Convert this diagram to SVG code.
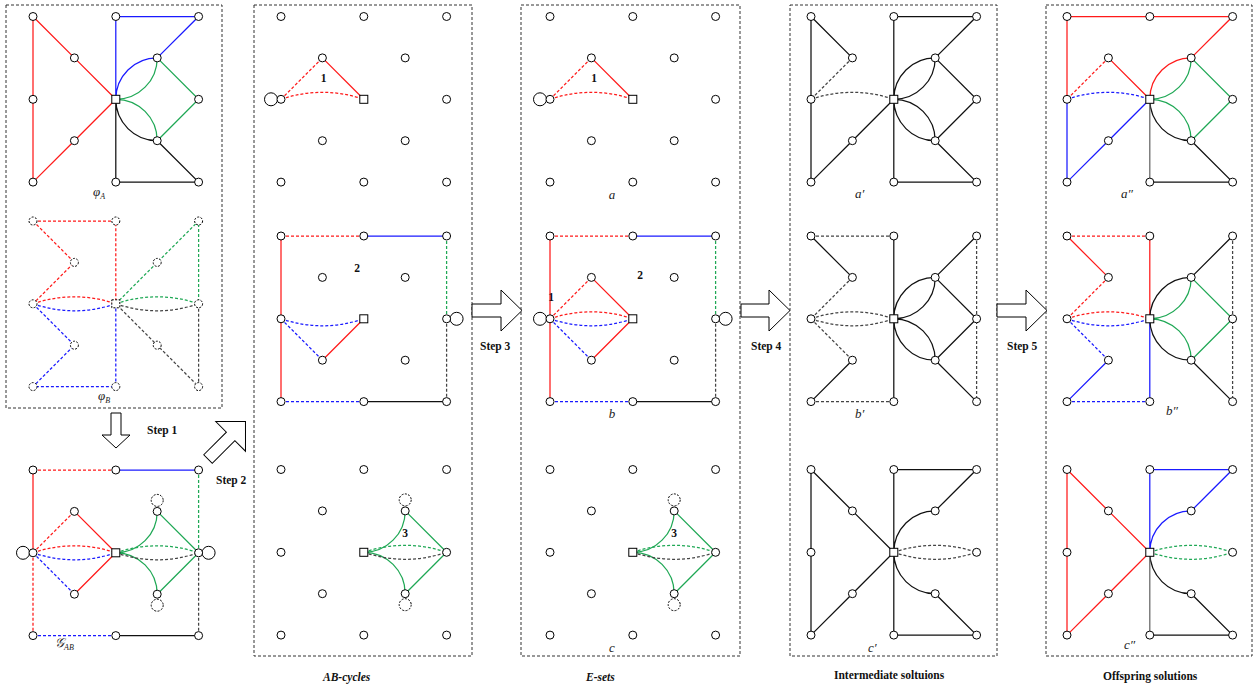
<svg xmlns="http://www.w3.org/2000/svg" width="1254" height="689" viewBox="0 0 1254 689">
<style>
  .frame { fill: none; stroke: #333; stroke-width: 1; stroke-dasharray: 3,2; }
  .e path { fill: none; stroke-width: 1.25; }
  .r { stroke: #ff1a1a; }
  .b { stroke: #1a1aff; }
  .g { stroke: #1fa855; }
  .k { stroke: #111; }
  .kd { stroke: #444; }
  .gr { stroke: #666; }
  .d { stroke-dasharray: 3,2; }
  .nodes circle, .nodes rect { fill: #fff; stroke: #000; stroke-width: 1; }
  .dn circle, .dn rect { stroke-dasharray: 2,1.4; }
  .big { fill: #fff; stroke: #000; stroke-width: 1; }
  .dc { fill: #fff; stroke: #000; stroke-width: 1; stroke-dasharray: 2,1.4; }
  .arrow { fill: #fff; stroke: #000; stroke-width: 1; }
  .step { font-family: "Liberation Serif", serif; font-weight: bold; font-size: 11.5px; fill: #111; }
  .num { font-family: "Liberation Serif", serif; font-weight: bold; font-size: 11.5px; fill: #111; text-anchor: middle; }
  .lab { font-family: "Liberation Serif", serif; font-style: italic; font-size: 13px; fill: #222; }
  .cap { font-family: "Liberation Serif", serif; font-weight: bold; font-size: 11.5px; fill: #111; }
  .capi { font-family: "Liberation Serif", serif; font-weight: bold; font-style: italic; font-size: 11.5px; fill: #111; }
</style>

<g id="frames">
  <rect class="frame" x="6" y="5" width="216" height="403"/>
  <rect class="frame" x="254" y="5" width="218" height="651"/>
  <rect class="frame" x="521" y="5" width="219" height="651"/>
  <rect class="frame" x="790" y="5" width="207" height="651"/>
  <rect class="frame" x="1046" y="5" width="206" height="651"/>
</g>

<g id="connectors" class="e">
  <g id="c-pa" transform="translate(33,16.5)">
    <path class="r" d="M0,0 L0,165.6 M0,0 L41.4,41.4 L82.8,82.8 M82.8,82.8 L41.4,124.2 L0,165.6"/>
    <path class="b" d="M82.8,82.8 L82.8,0 L165.6,0 L124.2,41.4 M82.8,82.8 A41.4,41.4 0 0 1 124.2,41.4"/>
    <path class="g" d="M82.8,82.8 A41.4,41.4 0 0 0 124.2,41.4 M124.2,41.4 L165.6,82.8 L124.2,124.2 M82.8,82.8 A41.4,41.4 0 0 1 124.2,124.2"/>
    <path class="k" d="M82.8,82.8 A41.4,41.4 0 0 0 124.2,124.2 M124.2,124.2 L165.6,165.6 L82.8,165.6 L82.8,82.8"/>
  </g>
  <g id="c-pb" transform="translate(33,221)">
    <path class="r d" d="M0,0 L82.8,0 L82.8,82.8 M0,0 L41.4,41.4 L0,82.8 M0,82.8 Q41.4,68.8 82.8,82.8"/>
    <path class="b d" d="M0,82.8 Q41.4,96.8 82.8,82.8 M0,82.8 L41.4,124.2 L0,165.6 L82.8,165.6 L82.8,82.8"/>
    <path class="g d" d="M82.8,82.8 L124.2,41.4 L165.6,0 L165.6,82.8 M82.8,82.8 Q124.2,68.8 165.6,82.8"/>
    <path class="kd d" d="M82.8,82.8 Q124.2,96.8 165.6,82.8 M165.6,82.8 L165.6,165.6 L124.2,124.2 L82.8,82.8"/>
  </g>
  <g id="c-gab" transform="translate(33,470)">
    <path class="r d" d="M0,0 L82.8,0 M0,82.8 L41.4,41.4 M0,82.8 Q41.4,68.8 82.8,82.8 M0,82.8 L0,165.6"/>
    <path class="r" d="M0,0 L0,82.8 M41.4,41.4 L82.8,82.8 M41.4,124.2 L82.8,82.8"/>
    <path class="b" d="M82.8,0 L165.6,0"/>
    <path class="b d" d="M0,82.8 Q41.4,96.8 82.8,82.8 M0,82.8 L41.4,124.2 M0,165.6 L82.8,165.6"/>
    <path class="g d" d="M165.6,0 L165.6,82.8 M82.8,82.8 Q124.2,68.8 165.6,82.8"/>
    <path class="g" d="M82.8,82.8 A41.4,41.4 0 0 0 124.2,41.4 M124.2,41.4 L165.6,82.8 M82.8,82.8 A41.4,41.4 0 0 1 124.2,124.2 M124.2,124.2 L165.6,82.8"/>
    <path class="kd d" d="M82.8,82.8 Q124.2,96.8 165.6,82.8 M165.6,82.8 L165.6,165.6"/>
    <path class="k" d="M82.8,165.6 L165.6,165.6"/>
  </g>
  <g id="c-ab1" transform="translate(281,16.5)">
    <path class="r d" d="M0,82.8 L41.4,41.4 M0,82.8 Q41.4,68.8 82.8,82.8"/>
    <path class="r" d="M41.4,41.4 L82.8,82.8"/>
  </g>
  <g id="c-ab2" transform="translate(281,236)">
    <path class="r d" d="M0,0 L82.8,0"/>
    <path class="b" d="M82.8,0 L165.6,0"/>
    <path class="g d" d="M165.6,0 L165.6,82.8"/>
    <path class="r" d="M0,0 L0,165.6 M41.4,124.2 L82.8,82.8"/>
    <path class="b d" d="M0,82.8 Q41.4,96.8 82.8,82.8 M0,82.8 L41.4,124.2 M0,165.6 L82.8,165.6"/>
    <path class="k" d="M82.8,165.6 L165.6,165.6"/>
    <path class="kd d" d="M165.6,82.8 L165.6,165.6"/>
  </g>
  <g id="c-ab3" transform="translate(281,469.5)">
    <path class="g" d="M82.8,82.8 A41.4,41.4 0 0 0 124.2,41.4 M124.2,41.4 L165.6,82.8 M82.8,82.8 A41.4,41.4 0 0 1 124.2,124.2 M124.2,124.2 L165.6,82.8"/>
    <path class="g d" d="M82.8,82.8 Q124.2,68.8 165.6,82.8"/>
    <path class="kd d" d="M82.8,82.8 Q124.2,96.8 165.6,82.8"/>
  </g>
  <g id="c-e1" transform="translate(550,16.5)">
    <path class="r d" d="M0,82.8 L41.4,41.4 M0,82.8 Q41.4,68.8 82.8,82.8"/>
    <path class="r" d="M41.4,41.4 L82.8,82.8"/>
  </g>
  <g id="c-e2" transform="translate(550,236)">
    <path class="r d" d="M0,0 L82.8,0 M0,82.8 L41.4,41.4 M0,82.8 Q41.4,68.8 82.8,82.8"/>
    <path class="r" d="M0,0 L0,165.6 M41.4,41.4 L82.8,82.8 M41.4,124.2 L82.8,82.8"/>
    <path class="b" d="M82.8,0 L165.6,0"/>
    <path class="b d" d="M0,82.8 Q41.4,96.8 82.8,82.8 M0,82.8 L41.4,124.2 M0,165.6 L82.8,165.6"/>
    <path class="g d" d="M165.6,0 L165.6,82.8"/>
    <path class="k" d="M82.8,165.6 L165.6,165.6"/>
    <path class="kd d" d="M165.6,82.8 L165.6,165.6"/>
  </g>
  <g id="c-e3" transform="translate(550,469.5)">
    <path class="g" d="M82.8,82.8 A41.4,41.4 0 0 0 124.2,41.4 M124.2,41.4 L165.6,82.8 M82.8,82.8 A41.4,41.4 0 0 1 124.2,124.2 M124.2,124.2 L165.6,82.8"/>
    <path class="g d" d="M82.8,82.8 Q124.2,68.8 165.6,82.8"/>
    <path class="kd d" d="M82.8,82.8 Q124.2,96.8 165.6,82.8"/>
  </g>
  <g id="c-i1" transform="translate(811,16.5)">
    <path class="k" d="M0,0 L0,165.6 M0,0 L41.4,41.4 M82.8,82.8 L41.4,124.2 L0,165.6 M82.8,0 L165.6,0 L124.2,41.4 M82.8,0 L82.8,165.6 M82.8,82.8 A41.4,41.4 0 0 1 124.2,41.4 M82.8,82.8 A41.4,41.4 0 0 0 124.2,41.4 M124.2,41.4 L165.6,82.8 L124.2,124.2 M82.8,82.8 A41.4,41.4 0 0 1 124.2,124.2 M82.8,82.8 A41.4,41.4 0 0 0 124.2,124.2 M124.2,124.2 L165.6,165.6 L82.8,165.6"/>
    <path class="kd d" d="M41.4,41.4 L0,82.8 M0,82.8 Q41.4,68.8 82.8,82.8"/>
  </g>
  <g id="c-i2" transform="translate(811,236)">
    <path class="kd d" d="M0,0 L82.8,0 M41.4,41.4 L0,82.8 M0,82.8 L41.4,124.2 M0,165.6 L82.8,165.6 M0,82.8 Q41.4,68.8 82.8,82.8 M0,82.8 Q41.4,96.8 82.8,82.8 M165.6,0 L165.6,165.6"/>
    <path class="k" d="M0,0 L41.4,41.4 M41.4,124.2 L0,165.6 M82.8,0 L82.8,165.6 M82.8,82.8 A41.4,41.4 0 0 1 124.2,41.4 M82.8,82.8 A41.4,41.4 0 0 0 124.2,41.4 M124.2,41.4 L165.6,0 M124.2,41.4 L165.6,82.8 L124.2,124.2 M82.8,82.8 A41.4,41.4 0 0 1 124.2,124.2 M82.8,82.8 A41.4,41.4 0 0 0 124.2,124.2 M124.2,124.2 L165.6,165.6"/>
  </g>
  <g id="c-i3" transform="translate(811,469.5)">
    <path class="k" d="M0,0 L0,165.6 M0,0 L41.4,41.4 L82.8,82.8 L41.4,124.2 L0,165.6 M82.8,0 L165.6,0 L124.2,41.4 M82.8,0 L82.8,165.6 M82.8,82.8 A41.4,41.4 0 0 1 124.2,41.4 M82.8,82.8 A41.4,41.4 0 0 0 124.2,124.2 M124.2,124.2 L165.6,165.6 L82.8,165.6"/>
    <path class="kd d" d="M82.8,82.8 Q124.2,68.8 165.6,82.8 M82.8,82.8 Q124.2,96.8 165.6,82.8"/>
  </g>
  <g id="c-o1" transform="translate(1067,16.5)">
    <path class="r" d="M0,82.8 L0,0 L165.6,0 L124.2,41.4 M41.4,41.4 L82.8,82.8 M82.8,82.8 A41.4,41.4 0 0 1 124.2,41.4"/>
    <path class="r d" d="M41.4,41.4 L0,82.8"/>
    <path class="b d" d="M0,82.8 Q41.4,68.8 82.8,82.8"/>
    <path class="b" d="M0,82.8 L0,165.6 L41.4,124.2 L82.8,82.8"/>
    <path class="g" d="M82.8,82.8 A41.4,41.4 0 0 0 124.2,41.4 M124.2,41.4 L165.6,82.8 L124.2,124.2 M82.8,82.8 A41.4,41.4 0 0 1 124.2,124.2"/>
    <path class="k" d="M82.8,82.8 A41.4,41.4 0 0 0 124.2,124.2 M124.2,124.2 L165.6,165.6 L82.8,165.6"/>
    <path class="gr" d="M82.8,82.8 L82.8,165.6"/>
  </g>
  <g id="c-o2" transform="translate(1067,236)">
    <path class="r d" d="M0,0 L82.8,0 M41.4,41.4 L0,82.8 M0,82.8 Q41.4,68.8 82.8,82.8"/>
    <path class="r" d="M82.8,0 L82.8,82.8 M0,0 L41.4,41.4"/>
    <path class="b d" d="M0,82.8 Q41.4,96.8 82.8,82.8 M0,82.8 L41.4,124.2 M0,165.6 L82.8,165.6"/>
    <path class="b" d="M41.4,124.2 L0,165.6 M82.8,165.6 L82.8,82.8"/>
    <path class="k" d="M124.2,41.4 L165.6,0 M82.8,82.8 A41.4,41.4 0 0 1 124.2,41.4 M82.8,82.8 A41.4,41.4 0 0 0 124.2,124.2 M124.2,124.2 L165.6,165.6"/>
    <path class="kd d" d="M165.6,0 L165.6,165.6"/>
    <path class="g" d="M82.8,82.8 A41.4,41.4 0 0 0 124.2,41.4 M82.8,82.8 A41.4,41.4 0 0 1 124.2,124.2 M124.2,41.4 L165.6,82.8 L124.2,124.2"/>
  </g>
  <g id="c-o3" transform="translate(1067,469.5)">
    <path class="r" d="M0,0 L0,165.6 M0,0 L41.4,41.4 L82.8,82.8 L41.4,124.2 L0,165.6"/>
    <path class="b" d="M82.8,82.8 L82.8,0 L165.6,0 L124.2,41.4 M82.8,82.8 A41.4,41.4 0 0 1 124.2,41.4"/>
    <path class="g d" d="M82.8,82.8 Q124.2,68.8 165.6,82.8 M82.8,82.8 Q124.2,96.8 165.6,82.8"/>
    <path class="k" d="M82.8,82.8 A41.4,41.4 0 0 0 124.2,124.2 M124.2,124.2 L165.6,165.6 L82.8,165.6"/>
    <path class="gr" d="M82.8,82.8 L82.8,165.6"/>
  </g>
</g>

<g id="nodes" class="nodes">
  <g id="pa" transform="translate(33,16.5)">
    <g id="pa-1"><circle cx="0" cy="0" r="4"/></g>
    <g id="pa-2"><circle cx="82.8" cy="0" r="4"/></g>
    <g id="pa-3"><circle cx="165.6" cy="0" r="4"/></g>
    <g id="pa-4"><circle cx="41.4" cy="41.4" r="4"/></g>
    <g id="pa-5"><circle cx="124.2" cy="41.4" r="4"/></g>
    <g id="pa-6"><circle cx="0" cy="82.8" r="4"/></g>
    <g id="pa-7"><rect x="78.8" y="78.8" width="8" height="8"/></g>
    <g id="pa-8"><circle cx="165.6" cy="82.8" r="4"/></g>
    <g id="pa-9"><circle cx="41.4" cy="124.2" r="4"/></g>
    <g id="pa-10"><circle cx="124.2" cy="124.2" r="4"/></g>
    <g id="pa-11"><circle cx="0" cy="165.6" r="4"/></g>
    <g id="pa-12"><circle cx="82.8" cy="165.6" r="4"/></g>
    <g id="pa-13"><circle cx="165.6" cy="165.6" r="4"/></g>
  </g>
  <g id="pb" class="dn" transform="translate(33,221)">
    <g id="pb-1"><circle cx="0" cy="0" r="4"/></g>
    <g id="pb-2"><circle cx="82.8" cy="0" r="4"/></g>
    <g id="pb-3"><circle cx="165.6" cy="0" r="4"/></g>
    <g id="pb-4"><circle cx="41.4" cy="41.4" r="4"/></g>
    <g id="pb-5"><circle cx="124.2" cy="41.4" r="4"/></g>
    <g id="pb-6"><circle cx="0" cy="82.8" r="4"/></g>
    <g id="pb-7"><rect x="78.8" y="78.8" width="8" height="8"/></g>
    <g id="pb-8"><circle cx="165.6" cy="82.8" r="4"/></g>
    <g id="pb-9"><circle cx="41.4" cy="124.2" r="4"/></g>
    <g id="pb-10"><circle cx="124.2" cy="124.2" r="4"/></g>
    <g id="pb-11"><circle cx="0" cy="165.6" r="4"/></g>
    <g id="pb-12"><circle cx="82.8" cy="165.6" r="4"/></g>
    <g id="pb-13"><circle cx="165.6" cy="165.6" r="4"/></g>
  </g>
  <g id="gab" transform="translate(33,470)">
    <g id="gab-x1"><circle class="big" cx="-10" cy="82.8" r="6.5"/></g>
    <g id="gab-x2"><circle class="big" cx="175.6" cy="82.8" r="6.5"/></g>
    <g id="gab-x3"><circle class="dc" cx="124.2" cy="30.4" r="6"/></g>
    <g id="gab-x4"><circle class="dc" cx="124.2" cy="135.2" r="6"/></g>
    <g id="gab-1"><circle cx="0" cy="0" r="4"/></g>
    <g id="gab-2"><circle cx="82.8" cy="0" r="4"/></g>
    <g id="gab-3"><circle cx="165.6" cy="0" r="4"/></g>
    <g id="gab-4"><circle cx="41.4" cy="41.4" r="4"/></g>
    <g id="gab-5"><circle cx="124.2" cy="41.4" r="4"/></g>
    <g id="gab-6"><circle cx="0" cy="82.8" r="4"/></g>
    <g id="gab-7"><rect x="78.8" y="78.8" width="8" height="8"/></g>
    <g id="gab-8"><circle cx="165.6" cy="82.8" r="4"/></g>
    <g id="gab-9"><circle cx="41.4" cy="124.2" r="4"/></g>
    <g id="gab-10"><circle cx="124.2" cy="124.2" r="4"/></g>
    <g id="gab-11"><circle cx="0" cy="165.6" r="4"/></g>
    <g id="gab-12"><circle cx="82.8" cy="165.6" r="4"/></g>
    <g id="gab-13"><circle cx="165.6" cy="165.6" r="4"/></g>
  </g>
  <g id="ab1" transform="translate(281,16.5)">
    <g id="ab1-x1"><circle class="big" cx="-10" cy="82.8" r="6.5"/></g>
    <g id="ab1-1"><circle cx="0" cy="0" r="4"/></g>
    <g id="ab1-2"><circle cx="82.8" cy="0" r="4"/></g>
    <g id="ab1-3"><circle cx="165.6" cy="0" r="4"/></g>
    <g id="ab1-4"><circle cx="41.4" cy="41.4" r="4"/></g>
    <g id="ab1-5"><circle cx="124.2" cy="41.4" r="4"/></g>
    <g id="ab1-6"><circle cx="0" cy="82.8" r="4"/></g>
    <g id="ab1-7"><rect x="78.8" y="78.8" width="8" height="8"/></g>
    <g id="ab1-8"><circle cx="165.6" cy="82.8" r="4"/></g>
    <g id="ab1-9"><circle cx="41.4" cy="124.2" r="4"/></g>
    <g id="ab1-10"><circle cx="124.2" cy="124.2" r="4"/></g>
    <g id="ab1-11"><circle cx="0" cy="165.6" r="4"/></g>
    <g id="ab1-12"><circle cx="82.8" cy="165.6" r="4"/></g>
    <g id="ab1-13"><circle cx="165.6" cy="165.6" r="4"/></g>
  </g>
  <g id="ab2" transform="translate(281,236)">
    <g id="ab2-x1"><circle class="big" cx="175.6" cy="82.8" r="6.5"/></g>
    <g id="ab2-1"><circle cx="0" cy="0" r="4"/></g>
    <g id="ab2-2"><circle cx="82.8" cy="0" r="4"/></g>
    <g id="ab2-3"><circle cx="165.6" cy="0" r="4"/></g>
    <g id="ab2-4"><circle cx="41.4" cy="41.4" r="4"/></g>
    <g id="ab2-5"><circle cx="124.2" cy="41.4" r="4"/></g>
    <g id="ab2-6"><circle cx="0" cy="82.8" r="4"/></g>
    <g id="ab2-7"><rect x="78.8" y="78.8" width="8" height="8"/></g>
    <g id="ab2-8"><circle cx="165.6" cy="82.8" r="4"/></g>
    <g id="ab2-9"><circle cx="41.4" cy="124.2" r="4"/></g>
    <g id="ab2-10"><circle cx="124.2" cy="124.2" r="4"/></g>
    <g id="ab2-11"><circle cx="0" cy="165.6" r="4"/></g>
    <g id="ab2-12"><circle cx="82.8" cy="165.6" r="4"/></g>
    <g id="ab2-13"><circle cx="165.6" cy="165.6" r="4"/></g>
  </g>
  <g id="ab3" transform="translate(281,469.5)">
    <g id="ab3-x1"><circle class="dc" cx="124.2" cy="30.4" r="6"/></g>
    <g id="ab3-x2"><circle class="dc" cx="124.2" cy="135.2" r="6"/></g>
    <g id="ab3-1"><circle cx="0" cy="0" r="4"/></g>
    <g id="ab3-2"><circle cx="82.8" cy="0" r="4"/></g>
    <g id="ab3-3"><circle cx="165.6" cy="0" r="4"/></g>
    <g id="ab3-4"><circle cx="41.4" cy="41.4" r="4"/></g>
    <g id="ab3-5"><circle cx="124.2" cy="41.4" r="4"/></g>
    <g id="ab3-6"><circle cx="0" cy="82.8" r="4"/></g>
    <g id="ab3-7"><rect x="78.8" y="78.8" width="8" height="8"/></g>
    <g id="ab3-8"><circle cx="165.6" cy="82.8" r="4"/></g>
    <g id="ab3-9"><circle cx="41.4" cy="124.2" r="4"/></g>
    <g id="ab3-10"><circle cx="124.2" cy="124.2" r="4"/></g>
    <g id="ab3-11"><circle cx="0" cy="165.6" r="4"/></g>
    <g id="ab3-12"><circle cx="82.8" cy="165.6" r="4"/></g>
    <g id="ab3-13"><circle cx="165.6" cy="165.6" r="4"/></g>
  </g>
  <g id="e1" transform="translate(550,16.5)">
    <g id="e1-x1"><circle class="big" cx="-10" cy="82.8" r="6.5"/></g>
    <g id="e1-1"><circle cx="0" cy="0" r="4"/></g>
    <g id="e1-2"><circle cx="82.8" cy="0" r="4"/></g>
    <g id="e1-3"><circle cx="165.6" cy="0" r="4"/></g>
    <g id="e1-4"><circle cx="41.4" cy="41.4" r="4"/></g>
    <g id="e1-5"><circle cx="124.2" cy="41.4" r="4"/></g>
    <g id="e1-6"><circle cx="0" cy="82.8" r="4"/></g>
    <g id="e1-7"><rect x="78.8" y="78.8" width="8" height="8"/></g>
    <g id="e1-8"><circle cx="165.6" cy="82.8" r="4"/></g>
    <g id="e1-9"><circle cx="41.4" cy="124.2" r="4"/></g>
    <g id="e1-10"><circle cx="124.2" cy="124.2" r="4"/></g>
    <g id="e1-11"><circle cx="0" cy="165.6" r="4"/></g>
    <g id="e1-12"><circle cx="82.8" cy="165.6" r="4"/></g>
    <g id="e1-13"><circle cx="165.6" cy="165.6" r="4"/></g>
  </g>
  <g id="e2" transform="translate(550,236)">
    <g id="e2-x1"><circle class="big" cx="-10" cy="82.8" r="6.5"/></g>
    <g id="e2-x2"><circle class="big" cx="175.6" cy="82.8" r="6.5"/></g>
    <g id="e2-1"><circle cx="0" cy="0" r="4"/></g>
    <g id="e2-2"><circle cx="82.8" cy="0" r="4"/></g>
    <g id="e2-3"><circle cx="165.6" cy="0" r="4"/></g>
    <g id="e2-4"><circle cx="41.4" cy="41.4" r="4"/></g>
    <g id="e2-5"><circle cx="124.2" cy="41.4" r="4"/></g>
    <g id="e2-6"><circle cx="0" cy="82.8" r="4"/></g>
    <g id="e2-7"><rect x="78.8" y="78.8" width="8" height="8"/></g>
    <g id="e2-8"><circle cx="165.6" cy="82.8" r="4"/></g>
    <g id="e2-9"><circle cx="41.4" cy="124.2" r="4"/></g>
    <g id="e2-10"><circle cx="124.2" cy="124.2" r="4"/></g>
    <g id="e2-11"><circle cx="0" cy="165.6" r="4"/></g>
    <g id="e2-12"><circle cx="82.8" cy="165.6" r="4"/></g>
    <g id="e2-13"><circle cx="165.6" cy="165.6" r="4"/></g>
  </g>
  <g id="e3" transform="translate(550,469.5)">
    <g id="e3-x1"><circle class="dc" cx="124.2" cy="30.4" r="6"/></g>
    <g id="e3-x2"><circle class="dc" cx="124.2" cy="135.2" r="6"/></g>
    <g id="e3-1"><circle cx="0" cy="0" r="4"/></g>
    <g id="e3-2"><circle cx="82.8" cy="0" r="4"/></g>
    <g id="e3-3"><circle cx="165.6" cy="0" r="4"/></g>
    <g id="e3-4"><circle cx="41.4" cy="41.4" r="4"/></g>
    <g id="e3-5"><circle cx="124.2" cy="41.4" r="4"/></g>
    <g id="e3-6"><circle cx="0" cy="82.8" r="4"/></g>
    <g id="e3-7"><rect x="78.8" y="78.8" width="8" height="8"/></g>
    <g id="e3-8"><circle cx="165.6" cy="82.8" r="4"/></g>
    <g id="e3-9"><circle cx="41.4" cy="124.2" r="4"/></g>
    <g id="e3-10"><circle cx="124.2" cy="124.2" r="4"/></g>
    <g id="e3-11"><circle cx="0" cy="165.6" r="4"/></g>
    <g id="e3-12"><circle cx="82.8" cy="165.6" r="4"/></g>
    <g id="e3-13"><circle cx="165.6" cy="165.6" r="4"/></g>
  </g>
  <g id="i1" transform="translate(811,16.5)">
    <g id="i1-1"><circle cx="0" cy="0" r="4"/></g>
    <g id="i1-2"><circle cx="82.8" cy="0" r="4"/></g>
    <g id="i1-3"><circle cx="165.6" cy="0" r="4"/></g>
    <g id="i1-4"><circle cx="41.4" cy="41.4" r="4"/></g>
    <g id="i1-5"><circle cx="124.2" cy="41.4" r="4"/></g>
    <g id="i1-6"><circle cx="0" cy="82.8" r="4"/></g>
    <g id="i1-7"><rect x="78.8" y="78.8" width="8" height="8"/></g>
    <g id="i1-8"><circle cx="165.6" cy="82.8" r="4"/></g>
    <g id="i1-9"><circle cx="41.4" cy="124.2" r="4"/></g>
    <g id="i1-10"><circle cx="124.2" cy="124.2" r="4"/></g>
    <g id="i1-11"><circle cx="0" cy="165.6" r="4"/></g>
    <g id="i1-12"><circle cx="82.8" cy="165.6" r="4"/></g>
    <g id="i1-13"><circle cx="165.6" cy="165.6" r="4"/></g>
  </g>
  <g id="i2" transform="translate(811,236)">
    <g id="i2-1"><circle cx="0" cy="0" r="4"/></g>
    <g id="i2-2"><circle cx="82.8" cy="0" r="4"/></g>
    <g id="i2-3"><circle cx="165.6" cy="0" r="4"/></g>
    <g id="i2-4"><circle cx="41.4" cy="41.4" r="4"/></g>
    <g id="i2-5"><circle cx="124.2" cy="41.4" r="4"/></g>
    <g id="i2-6"><circle cx="0" cy="82.8" r="4"/></g>
    <g id="i2-7"><rect x="78.8" y="78.8" width="8" height="8"/></g>
    <g id="i2-8"><circle cx="165.6" cy="82.8" r="4"/></g>
    <g id="i2-9"><circle cx="41.4" cy="124.2" r="4"/></g>
    <g id="i2-10"><circle cx="124.2" cy="124.2" r="4"/></g>
    <g id="i2-11"><circle cx="0" cy="165.6" r="4"/></g>
    <g id="i2-12"><circle cx="82.8" cy="165.6" r="4"/></g>
    <g id="i2-13"><circle cx="165.6" cy="165.6" r="4"/></g>
  </g>
  <g id="i3" transform="translate(811,469.5)">
    <g id="i3-1"><circle cx="0" cy="0" r="4"/></g>
    <g id="i3-2"><circle cx="82.8" cy="0" r="4"/></g>
    <g id="i3-3"><circle cx="165.6" cy="0" r="4"/></g>
    <g id="i3-4"><circle cx="41.4" cy="41.4" r="4"/></g>
    <g id="i3-5"><circle cx="124.2" cy="41.4" r="4"/></g>
    <g id="i3-6"><circle cx="0" cy="82.8" r="4"/></g>
    <g id="i3-7"><rect x="78.8" y="78.8" width="8" height="8"/></g>
    <g id="i3-8"><circle cx="165.6" cy="82.8" r="4"/></g>
    <g id="i3-9"><circle cx="41.4" cy="124.2" r="4"/></g>
    <g id="i3-10"><circle cx="124.2" cy="124.2" r="4"/></g>
    <g id="i3-11"><circle cx="0" cy="165.6" r="4"/></g>
    <g id="i3-12"><circle cx="82.8" cy="165.6" r="4"/></g>
    <g id="i3-13"><circle cx="165.6" cy="165.6" r="4"/></g>
  </g>
  <g id="o1" transform="translate(1067,16.5)">
    <g id="o1-1"><circle cx="0" cy="0" r="4"/></g>
    <g id="o1-2"><circle cx="82.8" cy="0" r="4"/></g>
    <g id="o1-3"><circle cx="165.6" cy="0" r="4"/></g>
    <g id="o1-4"><circle cx="41.4" cy="41.4" r="4"/></g>
    <g id="o1-5"><circle cx="124.2" cy="41.4" r="4"/></g>
    <g id="o1-6"><circle cx="0" cy="82.8" r="4"/></g>
    <g id="o1-7"><rect x="78.8" y="78.8" width="8" height="8"/></g>
    <g id="o1-8"><circle cx="165.6" cy="82.8" r="4"/></g>
    <g id="o1-9"><circle cx="41.4" cy="124.2" r="4"/></g>
    <g id="o1-10"><circle cx="124.2" cy="124.2" r="4"/></g>
    <g id="o1-11"><circle cx="0" cy="165.6" r="4"/></g>
    <g id="o1-12"><circle cx="82.8" cy="165.6" r="4"/></g>
    <g id="o1-13"><circle cx="165.6" cy="165.6" r="4"/></g>
  </g>
  <g id="o2" transform="translate(1067,236)">
    <g id="o2-1"><circle cx="0" cy="0" r="4"/></g>
    <g id="o2-2"><circle cx="82.8" cy="0" r="4"/></g>
    <g id="o2-3"><circle cx="165.6" cy="0" r="4"/></g>
    <g id="o2-4"><circle cx="41.4" cy="41.4" r="4"/></g>
    <g id="o2-5"><circle cx="124.2" cy="41.4" r="4"/></g>
    <g id="o2-6"><circle cx="0" cy="82.8" r="4"/></g>
    <g id="o2-7"><rect x="78.8" y="78.8" width="8" height="8"/></g>
    <g id="o2-8"><circle cx="165.6" cy="82.8" r="4"/></g>
    <g id="o2-9"><circle cx="41.4" cy="124.2" r="4"/></g>
    <g id="o2-10"><circle cx="124.2" cy="124.2" r="4"/></g>
    <g id="o2-11"><circle cx="0" cy="165.6" r="4"/></g>
    <g id="o2-12"><circle cx="82.8" cy="165.6" r="4"/></g>
    <g id="o2-13"><circle cx="165.6" cy="165.6" r="4"/></g>
  </g>
  <g id="o3" transform="translate(1067,469.5)">
    <g id="o3-1"><circle cx="0" cy="0" r="4"/></g>
    <g id="o3-2"><circle cx="82.8" cy="0" r="4"/></g>
    <g id="o3-3"><circle cx="165.6" cy="0" r="4"/></g>
    <g id="o3-4"><circle cx="41.4" cy="41.4" r="4"/></g>
    <g id="o3-5"><circle cx="124.2" cy="41.4" r="4"/></g>
    <g id="o3-6"><circle cx="0" cy="82.8" r="4"/></g>
    <g id="o3-7"><rect x="78.8" y="78.8" width="8" height="8"/></g>
    <g id="o3-8"><circle cx="165.6" cy="82.8" r="4"/></g>
    <g id="o3-9"><circle cx="41.4" cy="124.2" r="4"/></g>
    <g id="o3-10"><circle cx="124.2" cy="124.2" r="4"/></g>
    <g id="o3-11"><circle cx="0" cy="165.6" r="4"/></g>
    <g id="o3-12"><circle cx="82.8" cy="165.6" r="4"/></g>
    <g id="o3-13"><circle cx="165.6" cy="165.6" r="4"/></g>
  </g>
</g>

<g id="arrows">
  <polygon class="arrow" points="111,413 121,413 121,435 130,435 116,448 102,435 111,435"/>
  <polygon class="arrow" transform="translate(208,459) rotate(-45)" points="0,-6 32,-6 32,-21 53,0 32,21 32,6 0,6"/>
  <polygon class="arrow" points="472,304 501,304 501,290 522,310.5 501,331 501,317 472,317"/>
  <polygon class="arrow" points="741,304 769,304 769,290 790,310.5 769,331 769,317 741,317"/>
  <polygon class="arrow" points="997,304 1026,304 1026,290 1047,310.5 1026,331 1026,317 997,317"/>
</g>

<g id="labels">
  <text class="step" x="147" y="434">Step 1</text>
  <text class="step" x="216" y="484">Step 2</text>
  <text class="step" x="480" y="350">Step 3</text>
  <text class="step" x="751" y="350">Step 4</text>
  <text class="step" x="1007" y="350">Step 5</text>

  <text class="num" x="323.5" y="82">1</text>
  <text class="num" x="357" y="272">2</text>
  <text class="num" x="405" y="537">3</text>
  <text class="num" x="594" y="82">1</text>
  <text class="num" x="551" y="301">1</text>
  <text class="num" x="640" y="279">2</text>
  <text class="num" x="674" y="537">3</text>

  <text class="lab" x="93" y="196">φ<tspan font-size="8" dy="3">A</tspan></text>
  <text class="lab" x="98" y="400">φ<tspan font-size="8" dy="3">B</tspan></text>
  <text class="lab" x="55" y="647">𝒢<tspan font-size="8" dy="3">AB</tspan></text>

  <text class="lab" x="612" y="199" text-anchor="middle">a</text>
  <text class="lab" x="612" y="418" text-anchor="middle">b</text>
  <text class="lab" x="612" y="652" text-anchor="middle">c</text>
  <text class="lab" x="855" y="198">a′</text>
  <text class="lab" x="855" y="418">b′</text>
  <text class="lab" x="868" y="652">c′</text>
  <text class="lab" x="1121" y="198">a″</text>
  <text class="lab" x="1166" y="415">b″</text>
  <text class="lab" x="1124" y="649">c″</text>

  <text class="capi" x="323" y="681">AB-cycles</text>
  <text class="capi" x="586" y="681">E-sets</text>
  <text class="cap" x="834" y="679">Intermediate soltuions</text>
  <text class="cap" x="1103" y="680">Offspring solutions</text>
</g>
</svg>
